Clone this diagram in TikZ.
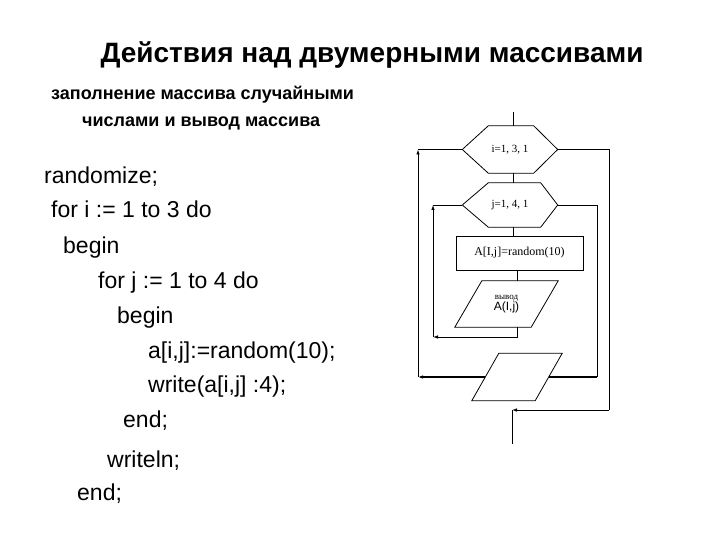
\documentclass[tikz,border=0pt]{standalone}
\usepackage{fontspec}
\setmainfont{Liberation Serif}
\setsansfont{Liberation Sans}
\usetikzlibrary{arrows.meta}

\tikzset{
  fchex/.style={rectangle, inner sep=0pt, minimum width=95pt, minimum height=47pt,
    font=\fontsize{11}{13}\selectfont},
  fcproc/.style={rectangle, draw, line width=.8pt, inner sep=0pt,
    minimum width=127pt, minimum height=34pt, font=\fontsize{12}{14}\selectfont},
  fcio/.style={rectangle, inner sep=0pt, minimum width=76pt, minimum height=46pt, align=center},
  fcedge/.style={line width=.8pt},
  fcthick/.style={line width=2pt},
  fcarrow/.style={-{Latex[length=5pt,width=3.5pt]}},
  codeline/.style={anchor=base west, inner sep=0pt, font=\sffamily\fontsize{23}{27}\selectfont},
  headline/.style={inner sep=0pt, font=\sffamily\bfseries\fontsize{28}{32}\selectfont},
  subline/.style={anchor=base west, inner sep=0pt, font=\sffamily\bfseries\fontsize{18}{21}\selectfont}
}

\begin{document}
\begin{tikzpicture}[x=1pt, y=-1pt]
\useasboundingbox (0,0) rectangle (720,540);

\node[headline, anchor=base] (title) at (372,63) {Действия над двумерными массивами};
\node[subline] (sub1) at (51,100) {заполнение массива случайными};
\node[subline] (sub2) at (82,127) {числами и вывод массива};

\node[codeline] (c1) at (44,184) {randomize;};
\node[codeline] (c2) at (51,218) {for i := 1 to 3 do};
\node[codeline] (c3) at (63,253) {begin};
\node[codeline] (c4) at (98,288) {for j := 1 to 4 do};
\node[codeline] (c5) at (117,323) {begin};
\node[codeline] (c6) at (148,358) {a[i,j]:=random(10);};
\node[codeline] (c7) at (148,392) {write(a[i,j] :4);};
\node[codeline] (c8) at (123,427) {end;};
\node[codeline] (c9) at (107,467) {writeln;};
\node[codeline] (c10) at (77,500) {end;};

\node[fchex] (iloop) at (510,149.5) {i=1, 3, 1};
\node[fchex, minimum height=44pt] (jloop) at (510,205) {j=1,\ 4,\ 1};
\node[fcproc] (fill) at (519.5,253) {A[I,j]=random(10)};
\node[fcio] (out) at (506.5,304) {{\fontsize{9}{11}\selectfont вывод}\\[-1pt]{\sffamily\fontsize{12}{14}\selectfont A(I,j)}};
\node[fcio, minimum width=63pt, minimum height=47pt] (wl) at (517,377) {};

\draw[fcedge] (iloop.west) -- ([xshift=26pt]iloop.north west) -- ([xshift=-24pt]iloop.north east)
  -- (iloop.east) -- ([xshift=-24pt]iloop.south east) -- ([xshift=26pt]iloop.south west) -- cycle;
\draw[fcedge] (jloop.west) -- ([xshift=26pt]jloop.north west) -- ([xshift=-17pt]jloop.north east)
  -- (jloop.east) -- ([xshift=-17pt]jloop.south east) -- ([xshift=26pt]jloop.south west) -- cycle;
\draw[fcedge] ([xshift=-13.5pt]out.south west) -- ([xshift=13.5pt]out.north west)
  -- ([xshift=13.5pt]out.north east) -- ([xshift=-13.5pt]out.south east) -- cycle;
\draw[fcedge] ([xshift=-13.5pt]wl.south west) -- ([xshift=13.5pt]wl.north west)
  -- ([xshift=13.5pt]wl.north east) -- ([xshift=-13.5pt]wl.south east) -- cycle;

\coordinate (start) at (513,112);
\coordinate (jback1) at (433,337);
\coordinate (jback2) at (433,205);
\coordinate (jexit) at (597,377);
\coordinate (iback1) at (418,377);
\coordinate (iback2) at (418,149.5);
\coordinate (iexit) at (609,410);
\coordinate (exitc) at (512,410);
\coordinate (stop) at (512,444);

\draw[fcedge] (start) -- (start |- iloop.north);
\draw[fcedge] (start |- iloop.south) -- (start |- jloop.north);
\draw[fcedge] (start |- jloop.south) -- (start |- fill.north);
\draw[fcedge] (517,0 |- fill.south) -- (517,0 |- out.north);

\draw[fcedge, fcarrow] (517,0 |- out.south) |- (jback1);
\draw[fcedge, fcarrow] (jback1) -- (jback2);
\draw[fcedge] (jback2) -- (jloop.west);

\draw[fcedge] (jloop.east) -| (jexit);
\draw[fcthick] (jexit) -- (wl.east);
\draw[fcthick, fcarrow] (wl.west) -- (iback1);
\draw[fcedge, fcarrow] (iback1) -- (iback2);
\draw[fcedge] (iback2) -- (iloop.west);

\draw[fcedge] (iloop.east) -| (iexit);
\draw[fcedge, fcarrow] (iexit) -- (exitc);
\draw[fcedge] (exitc) -- (stop);
\end{tikzpicture}
\end{document}
